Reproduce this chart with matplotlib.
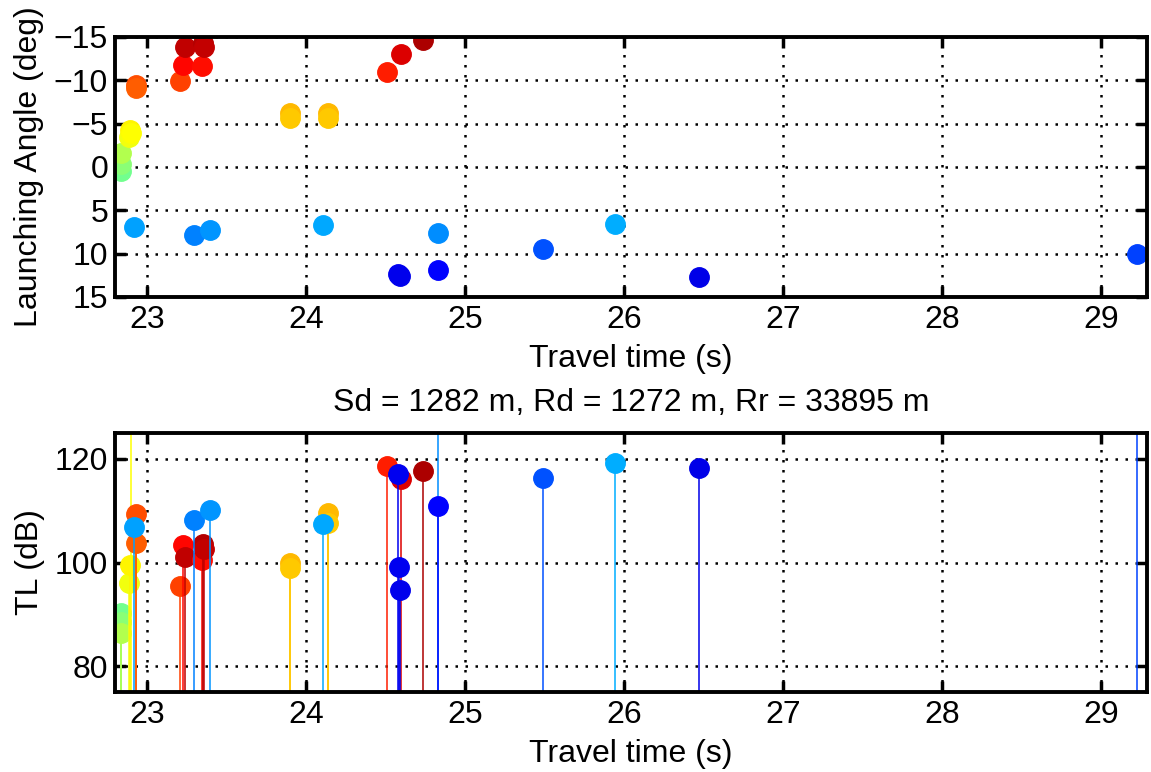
import matplotlib
matplotlib.use('Agg')
import matplotlib.pyplot as plt
from matplotlib import colors

# ---- data ----
travel_time = [22.84, 22.84, 22.84, 22.89, 22.895, 22.90, 22.93, 22.93, 22.92,
               23.21, 23.23, 23.24, 23.35, 23.355, 23.36, 23.30, 23.40,
               23.90, 23.90, 24.14, 24.14, 24.11,
               24.51, 24.60, 24.74, 24.58, 24.585, 24.59, 24.83, 24.83,
               25.49, 25.945, 26.47, 29.23]
launch_angle = [0.5, -0.3, -1.6, -3.5, -4.3, -3.9, -9.5, -9.1, 6.96,
                -9.9, -11.8, -13.9, -11.6, -14.3, -13.8, 7.9, 7.3,
                -6.2, -5.65, -6.2, -5.7, 6.65,
                -11.0, -13.0, -14.6, 12.4, 12.5, 12.6, 7.6, 11.9,
                9.46, 6.54, 12.7, 10.0]
tl_db = [90.2, 88.5, 86.4, 96.0, 99.5, 130.0, 109.3, 103.7, 106.9,
         95.4, 103.4, 101.1, 100.5, 103.6, 102.6, 108.2, 110.2,
         99.9, 98.9, 109.6, 107.6, 107.5,
         118.6, 116.2, 117.6, 117.0, 99.2, 94.6, 130.0, 111.0,
         116.3, 119.2, 118.3, 130.0]

x_ticks = [23, 24, 25, 26, 27, 28, 29]
angle_ticks = [-15, -10, -5, 0, 5, 10, 15]
tl_ticks = [80, 100, 120]
title_text = "Sd = 1282 m, Rd = 1272 m, Rr = 33895 m"

plt.rcParams['font.family'] = ['Liberation Sans', 'DejaVu Sans']
FS = 23

# MATLAB-style jet colormap
matlab_jet = colors.LinearSegmentedColormap('mjet', {
    'red':   [(0, 0, 0), (0.375, 0, 0), (0.625, 1, 1), (0.875, 1, 1), (1, 0.5, 0.5)],
    'green': [(0, 0, 0), (0.125, 0, 0), (0.375, 1, 1), (0.625, 1, 1), (0.875, 0, 0), (1, 0, 0)],
    'blue':  [(0, 0.5, 0.5), (0.125, 1, 1), (0.375, 1, 1), (0.625, 0, 0), (1, 0, 0)],
})

fig = plt.figure(figsize=(11.51, 7.72), dpi=100)
ax1 = fig.add_axes([0.0999, 0.6153, 0.8966, 0.3368])
ax2 = fig.add_axes([0.0999, 0.1036, 0.8966, 0.3355])

norm = colors.Normalize(-16, 16)
cols = [matlab_jet(norm(-a)) for a in launch_angle]

ms = 14
for t, a, c in zip(travel_time, launch_angle, cols):
    ax1.plot([t], [a], 'o', ms=ms, color=c, mec=c, zorder=3)

for t, v, c in zip(travel_time, tl_db, cols):
    ax2.vlines(t, 0, v, colors=[c], lw=1.1, zorder=3)
    ax2.plot([t], [v], 'o', ms=ms, color=c, mec=c, zorder=3)

for ax in (ax1, ax2):
    ax.set_xlim(22.8, 29.29)
    ax.set_xticks(x_ticks)
    ax.set_axisbelow(True)
    ax.grid(True, linestyle=(0, (1, 3)), color='k', lw=1.8)
    for s in ax.spines.values():
        s.set_linewidth(2.8)
        s.set_zorder(5)
    ax.tick_params(direction='in', length=8, width=2.5, top=True, right=True,
                   labelsize=FS)
    ax.tick_params(axis='x', pad=6)
    ax.tick_params(axis='y', pad=5)
    ax.set_xlabel('Travel time (s)', fontsize=FS, labelpad=6)

ax1.set_ylim(15, -15)
ax1.set_yticks(angle_ticks)
ax1.set_ylabel('Launching Angle (deg)', fontsize=FS, labelpad=7)

ax2.set_ylim(75, 125)
ax2.set_yticks(tl_ticks)
ax2.set_ylabel('TL (dB)', fontsize=FS, labelpad=7)
ax2.set_title(title_text, fontsize=FS, pad=16)

fig.savefig('out.png', dpi=100)
